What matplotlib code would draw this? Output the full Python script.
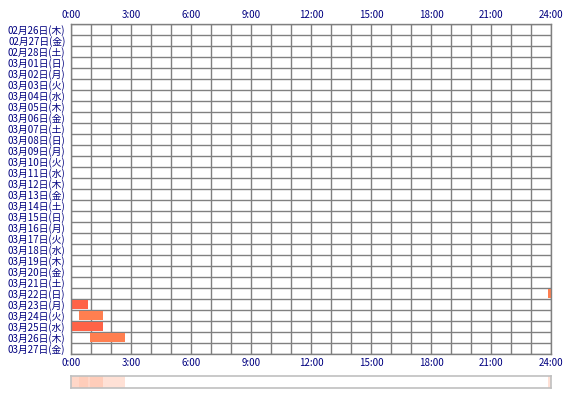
import numpy as np
import matplotlib
matplotlib.use("Agg")
import matplotlib.pyplot as plt
from matplotlib.colors import to_rgb

plt.rcParams['font.family'] = ['Noto Sans CJK JP', 'DejaVu Sans']

# One row per day
days = [
    "02月26日(木)", "02月27日(金)", "02月28日(土)", "03月01日(日)", "03月02日(月)",
    "03月03日(火)", "03月04日(水)", "03月05日(木)", "03月06日(金)", "03月07日(土)",
    "03月08日(日)", "03月09日(月)", "03月10日(火)", "03月11日(水)", "03月12日(木)",
    "03月13日(金)", "03月14日(土)", "03月15日(日)", "03月16日(月)", "03月17日(火)",
    "03月18日(水)", "03月19日(木)", "03月20日(金)", "03月21日(土)", "03月22日(日)",
    "03月23日(月)", "03月24日(火)", "03月25日(水)", "03月26日(木)", "03月27日(金)",
]

# Activity sessions (hours of day)
session_day = ["03月22日(日)", "03月23日(月)", "03月24日(火)", "03月25日(水)", "03月26日(木)"]
session_start = [23.85, 0.00, 0.40, 0.05, 0.93]
session_end = [24.00, 0.83, 1.58, 1.58, 2.70]
session_color = ["#ff7f50", "#ff6347", "#ff7f50", "#ff6347", "#ff7f50"]

hour_ticks = [0, 3, 6, 9, 12, 15, 18, 21, 24]
hour_labels = ["0:00", "3:00", "6:00", "9:00", "12:00", "15:00", "18:00", "21:00", "24:00"]

navy = "#000080"
grid_col = "#808080"

fig = plt.figure(figsize=(5.7, 4.0), dpi=100)
ax = fig.add_axes([71 / 570, 1 - 354 / 400, 480 / 570, 330 / 400])

n = len(days)
ax.set_xlim(0, 24)
ax.set_ylim(n, 0)

# hour / day grid
for h in range(25):
    ax.axvline(h, color=grid_col, lw=1.0, zorder=1)
for r in range(n + 1):
    ax.axhline(r, color=grid_col, lw=1.0, zorder=1)

for d, s, e, c in zip(session_day, session_start, session_end, session_color):
    row = days.index(d)
    ax.barh(row + 0.5, e - s, left=s, height=0.88, color=c, lw=0, zorder=2)

ax.set_xticks(hour_ticks)
ax.set_xticklabels(hour_labels)
ax.set_yticks(np.arange(n) + 0.5)
ax.set_yticklabels(days)
ax.tick_params(axis='both', length=0, colors=navy, labelsize=7)
ax.tick_params(axis='x', labeltop=True, pad=3)
ax.tick_params(axis='y', pad=4)
for sp in ax.spines.values():
    sp.set_color(grid_col)
    sp.set_linewidth(1.0)

# Summary strip: overlap count across all days
minutes = np.arange(24 * 60) / 60.0 + 1 / 120.0
count = np.zeros_like(minutes)
for s, e in zip(session_start, session_end):
    count += (minutes >= s) & (minutes < e)
base = np.array(to_rgb("#ff7f50"))
alpha = np.where(count > 0, 0.15 + 0.08 * count, 0.0)
rgb = 1 - alpha[:, None] * (1 - base[None, :])
img = rgb[None, :, :]

sx = fig.add_axes([71 / 570, 1 - 388 / 400, 480 / 570, 12 / 400])
sx.imshow(img, aspect='auto', extent=[0, 24, 0, 1], interpolation='nearest')
sx.set_xlim(0, 24)
sx.set_xticks([])
sx.set_yticks([])
for sp in sx.spines.values():
    sp.set_color("#c0c0c0")
    sp.set_linewidth(1.2)

fig.savefig("out.png", dpi=100)
